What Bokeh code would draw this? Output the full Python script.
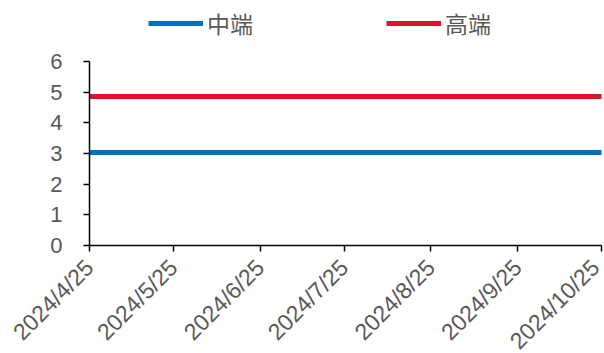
import math
import pandas as pd
from bokeh.plotting import figure
from bokeh.models import FixedTicker, CustomJSTickFormatter, Legend, LegendItem, Range1d
from bokeh.embed import file_html
from bokeh.resources import INLINE

dates = ["2024-04-25", "2024-05-25", "2024-06-25", "2024-07-25",
         "2024-08-25", "2024-09-25", "2024-10-25"]
mid_values = [3.03, 3.03, 3.03, 3.03, 3.03, 3.03, 3.03]
high_values = [4.86, 4.86, 4.86, 4.86, 4.86, 4.86, 4.86]
tick_dates = ["2024-04-25", "2024-05-25", "2024-06-25", "2024-07-25",
              "2024-08-25", "2024-09-25", "2024-10-25"]
series_names = ["中端", "高端"]
y_ticks = [0, 1, 2, 3, 4, 5, 6]

x = pd.to_datetime(dates)
tick_ms = [pd.Timestamp(d).value // 10**6 for d in tick_dates]
x0_ms, x1_ms = tick_ms[0], tick_ms[-1]

# the frame covers the whole canvas; the visible axes occupy pixels x 89..601, y 61..245
W, H = 604, 353
axis_left_px, axis_right_px = 89, 601
axis_top_px, axis_bottom_px = 61, 245
ms_per_px = (x1_ms - x0_ms) / (axis_right_px - axis_left_px)
px_per_unit = (axis_bottom_px - axis_top_px) / (y_ticks[-1] - y_ticks[0])
y_min = y_ticks[0] - (H - axis_bottom_px) / px_per_unit
y_max = y_ticks[-1] + axis_top_px / px_per_unit

p = figure(width=W, height=H, x_axis_type="datetime",
           output_backend="svg", toolbar_location=None,
           min_border_left=0, min_border_right=0,
           min_border_top=0, min_border_bottom=0)
p.x_range = Range1d(x0_ms - axis_left_px * ms_per_px,
                    x1_ms + (W - axis_right_px) * ms_per_px)
p.y_range = Range1d(y_min, y_max)

l1 = p.line(x, mid_values, line_color="#0070C0", line_width=5)
l2 = p.line(x, high_values, line_color="#D9142B", line_width=5)

p.xgrid.visible = False
p.ygrid.visible = False
p.outline_line_color = None

p.xaxis.ticker = FixedTicker(ticks=tick_ms)
p.xaxis.formatter = CustomJSTickFormatter(code="""
const d = new Date(tick);
return d.getUTCFullYear() + '/' + (d.getUTCMonth()+1) + '/' + d.getUTCDate();
""")
p.xaxis.major_label_orientation = math.pi / 4
p.xaxis.fixed_location = 0
p.xaxis.bounds = (x0_ms, x1_ms)
p.yaxis.ticker = FixedTicker(ticks=y_ticks)
p.yaxis.bounds = (y_ticks[0], y_ticks[-1])
p.yaxis.fixed_location = x0_ms

for ax in (p.xaxis[0], p.yaxis[0]):
    ax.axis_line_color = "black"
    ax.axis_line_width = 1.5
    ax.major_tick_line_color = "black"
    ax.major_tick_line_width = 1.5
    ax.major_tick_in = 0
    ax.major_tick_out = 6
    ax.minor_tick_line_color = None
    ax.major_label_text_color = "#595959"
    ax.major_label_text_font = "Liberation Sans"
p.xaxis.major_label_text_font_size = "23px"
p.yaxis.major_label_text_font_size = "22px"
p.yaxis.major_label_standoff = 21
p.xaxis.major_label_standoff = 12

legend = Legend(items=[LegendItem(label=series_names[0], renderers=[l1]),
                       LegendItem(label=series_names[1], renderers=[l2])],
                orientation="horizontal", location=(148, H - 40),
                glyph_width=55, glyph_height=26, label_standoff=4,
                spacing=133, padding=0, margin=0,
                label_text_font="Noto Sans CJK SC", label_text_font_size="23px",
                label_text_color="#595959",
                background_fill_alpha=0, border_line_color=None)
p.add_layout(legend, "center")

open("out.html", "w").write(file_html(p, INLINE))
